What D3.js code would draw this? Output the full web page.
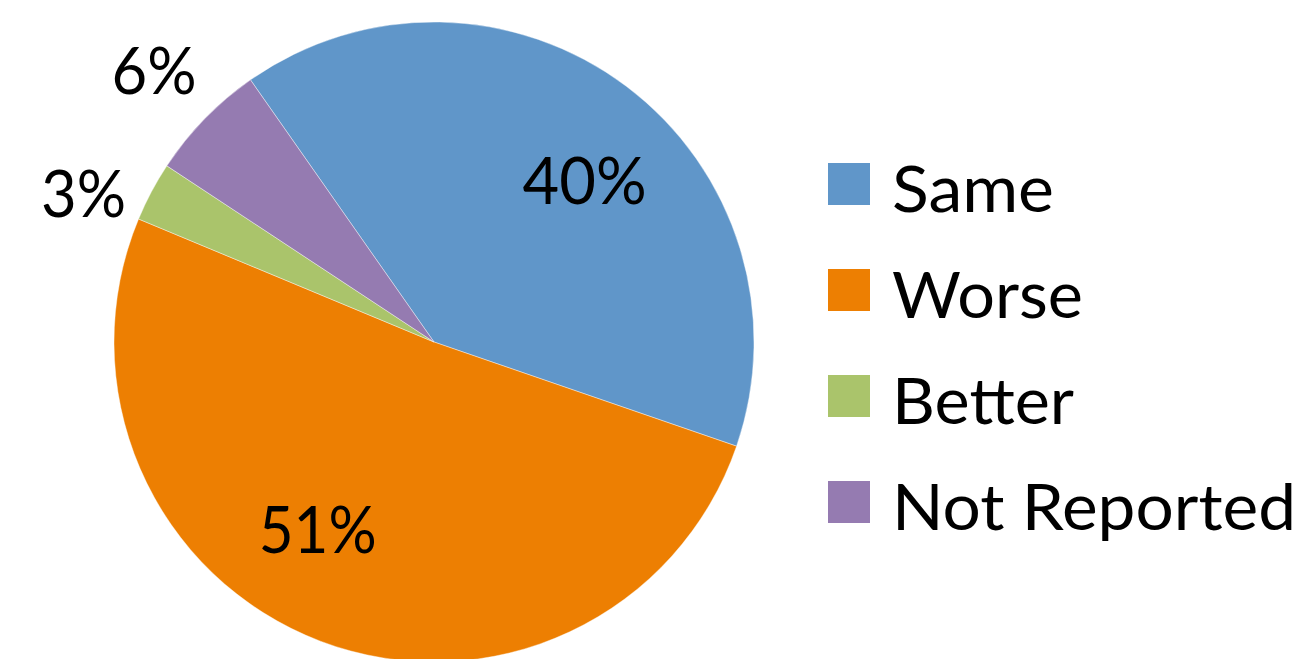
<!DOCTYPE html>
<html>
<head>
<meta charset="utf-8">
<script src="https://cdn.jsdelivr.net/npm/d3@7"></script>
<style>
  html, body { margin: 0; padding: 0; background: #fff; }
  svg { display: block; }
  text { font-family: Lato, "Open Sans", "Liberation Sans", sans-serif; fill: #000; }
</style>
</head>
<body>
<svg id="chart" width="1300" height="659"></svg>
<script>
// Survey responses, in drawing order (clockwise)
const categories = ["Same", "Worse", "Better", "Not Reported"];
const values = [40, 51, 3, 6];
const colors = ["#6096C9", "#ED7F02", "#AAC46B", "#957BB1"];
const valueLabels = values.map(v => v + "%");

const W = 1300, H = 659;
const cx = 434, cy = 342, R = 320;
const firstSliceAngle = -35; // degrees, clockwise from 12 o'clock

const svg = d3.select("#chart");
const g = svg.append("g").attr("transform", `translate(${cx},${cy})`);

const pie = d3.pie()
  .value(d => d)
  .sort(null)
  .startAngle(firstSliceAngle * Math.PI / 180)
  .endAngle((firstSliceAngle + 360) * Math.PI / 180);

const arcs = pie(values);
const arc = d3.arc().innerRadius(0).outerRadius(R);

g.selectAll("path.slice")
  .data(arcs)
  .join("path")
  .attr("class", "slice")
  .attr("d", arc)
  .attr("fill", (d, i) => colors[i])
  .attr("stroke", "#ffffff")
  .attr("stroke-opacity", 0.5)
  .attr("stroke-width", 0.8);

// Label placement: large slices inside, small slices outside the rim
const labelStyle = [
  { rf: 0.69, da: 6,  width: 124 },
  { rf: 0.69, da: 11, width: 118 },
  { rf: 1.19, da: -5, width: 85 },
  { rf: 1.22, da: 0,  width: 85 }
];
const labelSize = 66;

g.selectAll("text.pct")
  .data(arcs)
  .join("text")
  .attr("class", "pct")
  .each(function (d, i) {
    const s = labelStyle[i];
    const a = (d.startAngle + d.endAngle) / 2 + s.da * Math.PI / 180;
    const r = R * s.rf;
    const x = Math.sin(a) * r;
    const y = -Math.cos(a) * r;
    d3.select(this)
      .attr("x", x - s.width / 2)
      .attr("y", y + labelSize * 0.36)
      .attr("textLength", s.width)
      .attr("lengthAdjust", "spacingAndGlyphs")
      .style("font-size", labelSize + "px")
      .text(valueLabels[i]);
  });

// Legend
const legendX = 828, legendY = 163, legendStep = 106, swatch = 42;
const legendWidths = [162, 191, 182, 404];
const legend = svg.append("g");
const rows = legend.selectAll("g.row")
  .data(categories)
  .join("g")
  .attr("class", "row")
  .attr("transform", (d, i) => `translate(${legendX},${legendY + i * legendStep})`);

rows.append("rect")
  .attr("width", swatch)
  .attr("height", swatch)
  .attr("fill", (d, i) => colors[i]);

rows.append("text")
  .attr("x", 64)
  .attr("y", 49)
  .attr("textLength", (d, i) => legendWidths[i])
  .attr("lengthAdjust", "spacingAndGlyphs")
  .style("font-size", "64px")
  .text(d => d);
</script>
</body>
</html>
